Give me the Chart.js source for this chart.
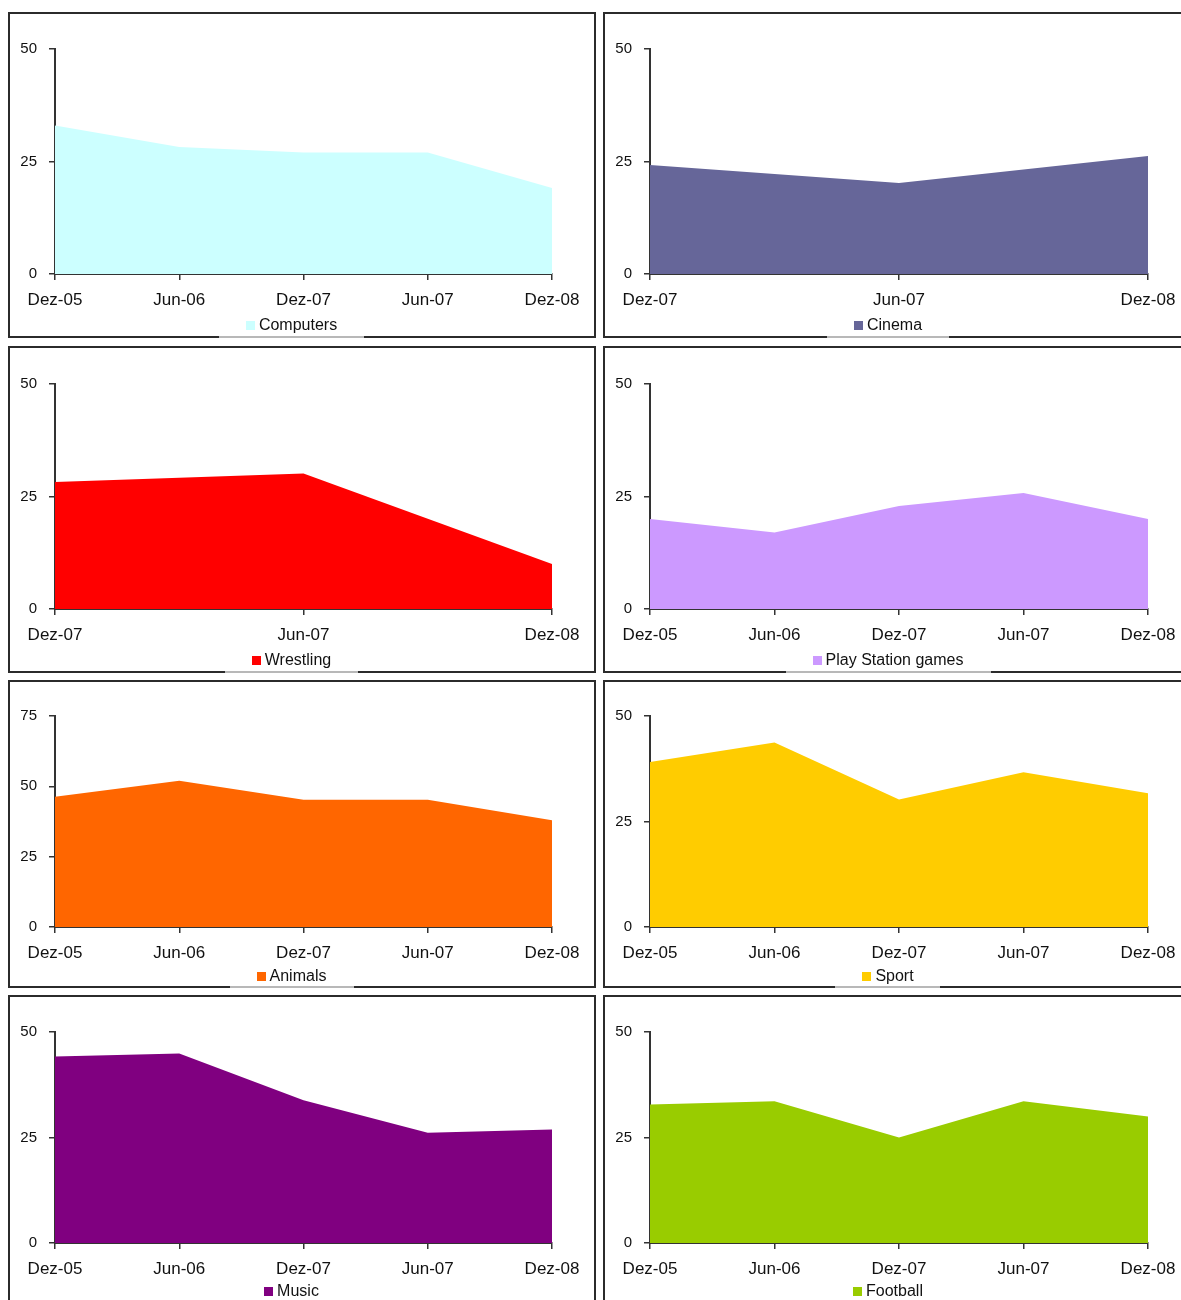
<!DOCTYPE html>
<html>
<head>
<meta charset="utf-8">
<script src="https://cdn.jsdelivr.net/npm/chart.js@4.4.1/dist/chart.umd.min.js"></script>
<style>
  html, body { margin: 0; padding: 0; background: #fff; }
  body { position: relative; width: 1181px; height: 1300px; overflow: hidden; }
  .panel { position: absolute; box-sizing: border-box; border: 2px solid #2b2b2b; background: #fff; }
  .panel canvas { position: absolute; left: 0; top: 0; }
  .frame { position: absolute; height: 2px; background: #b8b8b8; }
</style>
</head>
<body>
<script>
// Category labels for the two kinds of time axes
const monthsFive  = ['Dez-05', 'Jun-06', 'Dez-07', 'Jun-07', 'Dez-08'];
const monthsThree = ['Dez-07', 'Jun-07', 'Dez-08'];

// Series values
const computers   = [33.0, 28.2, 27.0, 27.0, 19.1];
const cinema      = [24.2, 20.2, 26.2];
const wrestling   = [28.2, 30.1, 10.0];
const playStation = [20.0, 17.0, 22.9, 25.8, 20.0];
const animals     = [46.3, 52.0, 45.2, 45.2, 37.9];
const sport       = [39.1, 43.7, 30.2, 36.7, 31.7];
const music       = [44.2, 44.9, 33.8, 26.1, 26.9];
const football    = [32.8, 33.6, 25.0, 33.6, 30.0];

// Panel grid geometry (page pixels)
const columns = [
  { x: 8,   w: 588, plotLeft: 55,  plotRight: 552,  legendCenter: 291.5 },
  { x: 603, w: 590, plotLeft: 650, plotRight: 1148, legendCenter: 888 }
];
const rows = [
  { y: 12,  h: 326, plotTop: 49,  plotBottom: 274,  legendY: 325 },
  { y: 346, h: 327, plotTop: 384, plotBottom: 609,  legendY: 660 },
  { y: 680, h: 308, plotTop: 716, plotBottom: 927,  legendY: 976 },
  { y: 995, h: 330, plotTop: 1032, plotBottom: 1243, legendY: 1291 }
];

const panels = [
  { label: 'Computers',          labels: monthsFive,  data: computers,   color: '#CCFFFF', max: 50, row: 0, col: 0 },
  { label: 'Cinema',             labels: monthsThree, data: cinema,      color: '#666699', max: 50, row: 0, col: 1 },
  { label: 'Wrestling',          labels: monthsThree, data: wrestling,   color: '#FF0000', max: 50, row: 1, col: 0 },
  { label: 'Play Station games', labels: monthsFive,  data: playStation, color: '#CC99FF', max: 50, row: 1, col: 1 },
  { label: 'Animals',            labels: monthsFive,  data: animals,     color: '#FF6600', max: 75, row: 2, col: 0 },
  { label: 'Sport',              labels: monthsFive,  data: sport,       color: '#FFCC00', max: 50, row: 2, col: 1 },
  { label: 'Music',              labels: monthsFive,  data: music,       color: '#800080', max: 50, row: 3, col: 0 },
  { label: 'Football',           labels: monthsFive,  data: football,    color: '#99CC00', max: 50, row: 3, col: 1 }
];

const FONT = '"Liberation Sans", Arial, Helvetica, sans-serif';
const TEXT = '#111111';
const AXIS = '#333333';
const LEGEND_FONT = '16px ' + FONT;
const LEGEND_BOX = 9, LEGEND_GAP = 4;

// Small square-swatch legend drawn under each panel's axis
const panelLegend = {
  id: 'panelLegend',
  afterDraw(chart, args, opts) {
    const ctx = chart.ctx;
    const ds = chart.data.datasets[0];
    ctx.save();
    ctx.font = LEGEND_FONT;
    const tw = ctx.measureText(ds.label).width;
    const total = LEGEND_BOX + LEGEND_GAP + tw;
    const x0 = opts.centerX - total / 2;
    ctx.fillStyle = ds.backgroundColor;
    ctx.fillRect(Math.round(x0), Math.round(opts.y - LEGEND_BOX / 2), LEGEND_BOX, LEGEND_BOX);
    ctx.fillStyle = TEXT;
    ctx.textAlign = 'left';
    ctx.textBaseline = 'middle';
    ctx.fillText(ds.label, x0 + LEGEND_BOX + LEGEND_GAP, opts.y + 1);
    ctx.restore();
  }
};

const measure = document.createElement('canvas').getContext('2d');

panels.forEach(p => {
  const col = columns[p.col], row = rows[p.row];

  const panel = document.createElement('div');
  panel.className = 'panel';
  Object.assign(panel.style, { left: col.x + 'px', top: row.y + 'px', width: col.w + 'px', height: row.h + 'px' });
  document.body.appendChild(panel);

  const cx = col.x + 2, cy = row.y + 2, cw = col.w - 4, ch = row.h - 4;
  const canvas = document.createElement('canvas');
  canvas.width = cw; canvas.height = ch;
  canvas.style.width = cw + 'px'; canvas.style.height = ch + 'px';
  panel.appendChild(canvas);

  // light frame segment where the legend box meets the panel edge
  measure.font = LEGEND_FONT;
  const legendW = LEGEND_BOX + LEGEND_GAP + measure.measureText(p.label).width;
  const frame = document.createElement('div');
  frame.className = 'frame';
  Object.assign(frame.style, {
    left: Math.round(col.legendCenter - legendW / 2 - 27) + 'px',
    width: Math.round(legendW + 54) + 'px',
    top: (row.y + row.h - 2) + 'px'
  });
  document.body.appendChild(frame);

  new Chart(canvas, {
    type: 'line',
    data: {
      labels: p.labels,
      datasets: [{
        label: p.label,
        data: p.data,
        backgroundColor: p.color,
        borderColor: p.color,
        borderWidth: 0,
        fill: 'origin',
        pointRadius: 0,
        tension: 0
      }]
    },
    options: {
      responsive: false,
      animation: false,
      devicePixelRatio: 1,
      layout: { padding: { left: 0, top: row.plotTop - cy, right: cx + cw - col.plotRight, bottom: 0 } },
      plugins: {
        legend: { display: false },
        tooltip: { enabled: false },
        panelLegend: { centerX: col.legendCenter - cx, y: row.legendY - cy }
      },
      scales: {
        x: {
          z: 1,
          grid: { drawOnChartArea: false, drawTicks: true, tickLength: 6, color: AXIS, lineWidth: 1.5 },
          border: { color: AXIS, width: 2 },
          ticks: { color: TEXT, font: { family: FONT, size: 17 }, padding: 10, maxRotation: 0, autoSkip: false },
          afterFit(s) { s.height = cy + ch - row.plotBottom; }
        },
        y: {
          z: 1,
          min: 0,
          max: p.max,
          grid: { drawOnChartArea: false, drawTicks: true, tickLength: 6, color: AXIS, lineWidth: 1.5 },
          border: { color: AXIS, width: 2 },
          ticks: { stepSize: 25, color: TEXT, font: { family: FONT, size: 15 }, padding: 12 },
          afterFit(s) { s.width = col.plotLeft - cx; }
        }
      }
    },
    plugins: [panelLegend]
  });
});
</script>
</body>
</html>
